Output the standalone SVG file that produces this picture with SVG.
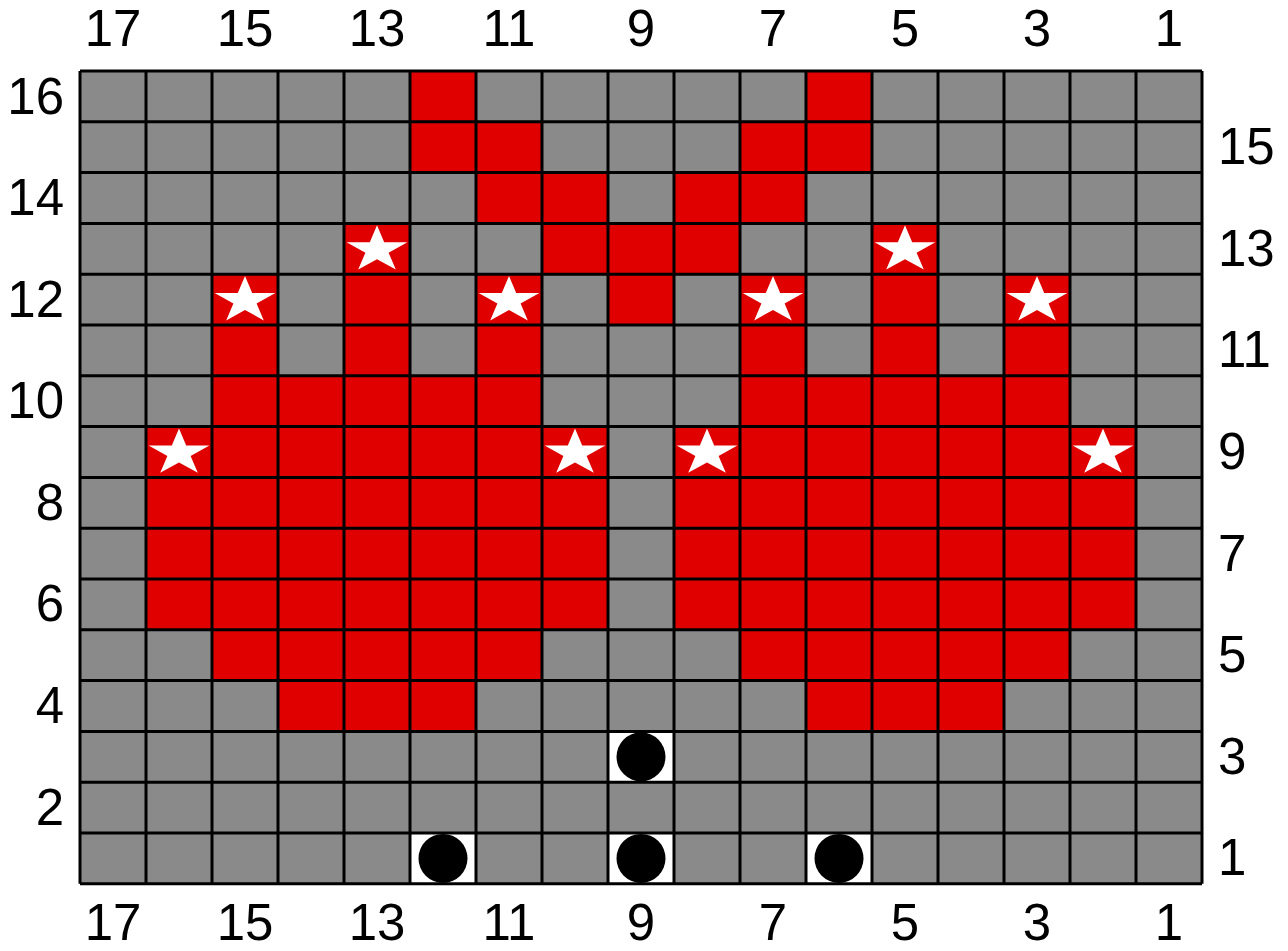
<svg xmlns="http://www.w3.org/2000/svg" width="1288" height="951" viewBox="0 0 1288 951">
<style>
.lbl{font-family:"Liberation Sans",Arial,sans-serif;font-size:51px;fill:#000}
.c{text-anchor:middle}
.l{text-anchor:end}
.r{text-anchor:start}
.red{fill:#e00000}
.wh{fill:#ffffff}
.dot{fill:#000}
.star{fill:#ffffff}
</style>
<defs>
<path id="star" d="M0,-24.5 L7.2,-7.6 L30.4,-7.6 L11.6,2.9 L18.8,19.8 L0,9.4 L-18.8,19.8 L-11.6,2.9 L-30.4,-7.6 L-7.2,-7.6 Z"/>
</defs>
<rect width="1288" height="951" fill="#ffffff"/>
<g id="grid">
<rect x="80" y="71" width="1122" height="812.8" fill="#8a8a8a"/>
<g id="red-cells" class="red">
<rect x="410" y="71" width="66" height="50.8"/>
<rect x="806" y="71" width="66" height="50.8"/>
<rect x="410" y="121.8" width="132" height="50.8"/>
<rect x="740" y="121.8" width="132" height="50.8"/>
<rect x="476" y="172.6" width="132" height="50.8"/>
<rect x="674" y="172.6" width="132" height="50.8"/>
<rect x="344" y="223.4" width="66" height="50.8"/>
<rect x="542" y="223.4" width="198" height="50.8"/>
<rect x="872" y="223.4" width="66" height="50.8"/>
<rect x="212" y="274.2" width="66" height="101.6"/>
<rect x="344" y="274.2" width="66" height="101.6"/>
<rect x="476" y="274.2" width="66" height="101.6"/>
<rect x="608" y="274.2" width="66" height="50.8"/>
<rect x="740" y="274.2" width="66" height="101.6"/>
<rect x="872" y="274.2" width="66" height="101.6"/>
<rect x="1004" y="274.2" width="66" height="101.6"/>
<rect x="212" y="375.8" width="330" height="50.8"/>
<rect x="740" y="375.8" width="330" height="50.8"/>
<rect x="146" y="426.6" width="462" height="203.2"/>
<rect x="674" y="426.6" width="462" height="203.2"/>
<rect x="212" y="629.8" width="330" height="50.8"/>
<rect x="740" y="629.8" width="330" height="50.8"/>
<rect x="278" y="680.6" width="198" height="50.8"/>
<rect x="806" y="680.6" width="198" height="50.8"/>
</g>
<g id="white-cells" class="wh">
<rect x="608" y="731.4" width="66" height="50.8"/>
<rect x="410" y="833" width="66" height="50.8"/>
<rect x="608" y="833" width="66" height="50.8"/>
<rect x="806" y="833" width="66" height="50.8"/>
</g>
<path id="lines" fill="none" stroke="#000" stroke-width="3" d="M80,71 V883.8 M146,71 V883.8 M212,71 V883.8 M278,71 V883.8 M344,71 V883.8 M410,71 V883.8 M476,71 V883.8 M542,71 V883.8 M608,71 V883.8 M674,71 V883.8 M740,71 V883.8 M806,71 V883.8 M872,71 V883.8 M938,71 V883.8 M1004,71 V883.8 M1070,71 V883.8 M1136,71 V883.8 M1202,71 V883.8 M80,71 H1202 M80,121.8 H1202 M80,172.6 H1202 M80,223.4 H1202 M80,274.2 H1202 M80,325 H1202 M80,375.8 H1202 M80,426.6 H1202 M80,477.4 H1202 M80,528.2 H1202 M80,579 H1202 M80,629.8 H1202 M80,680.6 H1202 M80,731.4 H1202 M80,782.2 H1202 M80,833 H1202 M80,883.8 H1202"/>
<g id="stars" class="star">
<use href="#star" transform="translate(377,249.8)"/>
<use href="#star" transform="translate(905,249.8)"/>
<use href="#star" transform="translate(245,300.6)"/>
<use href="#star" transform="translate(509,300.6)"/>
<use href="#star" transform="translate(773,300.6)"/>
<use href="#star" transform="translate(1037,300.6)"/>
<use href="#star" transform="translate(179,453)"/>
<use href="#star" transform="translate(575,453)"/>
<use href="#star" transform="translate(707,453)"/>
<use href="#star" transform="translate(1103,453)"/>
</g>
<g id="dots" class="dot">
<circle cx="641" cy="756.8" r="24.5"/>
<circle cx="443" cy="858.4" r="24.5"/>
<circle cx="641" cy="858.4" r="24.5"/>
<circle cx="839" cy="858.4" r="24.5"/>
</g>
</g>
<g id="top-labels" class="lbl c">
<text x="113" y="46">17</text><text x="245" y="46">15</text><text x="377" y="46">13</text><text x="509" y="46">11</text><text x="641" y="46">9</text><text x="773" y="46">7</text><text x="905" y="46">5</text><text x="1037" y="46">3</text><text x="1169" y="46">1</text>
</g>
<g id="bottom-labels" class="lbl c">
<text x="113" y="940">17</text><text x="245" y="940">15</text><text x="377" y="940">13</text><text x="509" y="940">11</text><text x="641" y="940">9</text><text x="773" y="940">7</text><text x="905" y="940">5</text><text x="1037" y="940">3</text><text x="1169" y="940">1</text>
</g>
<g id="left-labels" class="lbl l">
<text x="64" y="113.5">16</text><text x="64" y="215">14</text><text x="64" y="316.6">12</text><text x="64" y="418.2">10</text><text x="64" y="519.8">8</text><text x="64" y="621.4">6</text><text x="64" y="723">4</text><text x="64" y="824.6">2</text>
</g>
<g id="right-labels" class="lbl r">
<text x="1218" y="164.2">15</text><text x="1218" y="265.8">13</text><text x="1218" y="367.4">11</text><text x="1218" y="469">9</text><text x="1218" y="570.6">7</text><text x="1218" y="672.2">5</text><text x="1218" y="773.8">3</text><text x="1218" y="875.4">1</text>
</g>
</svg>
